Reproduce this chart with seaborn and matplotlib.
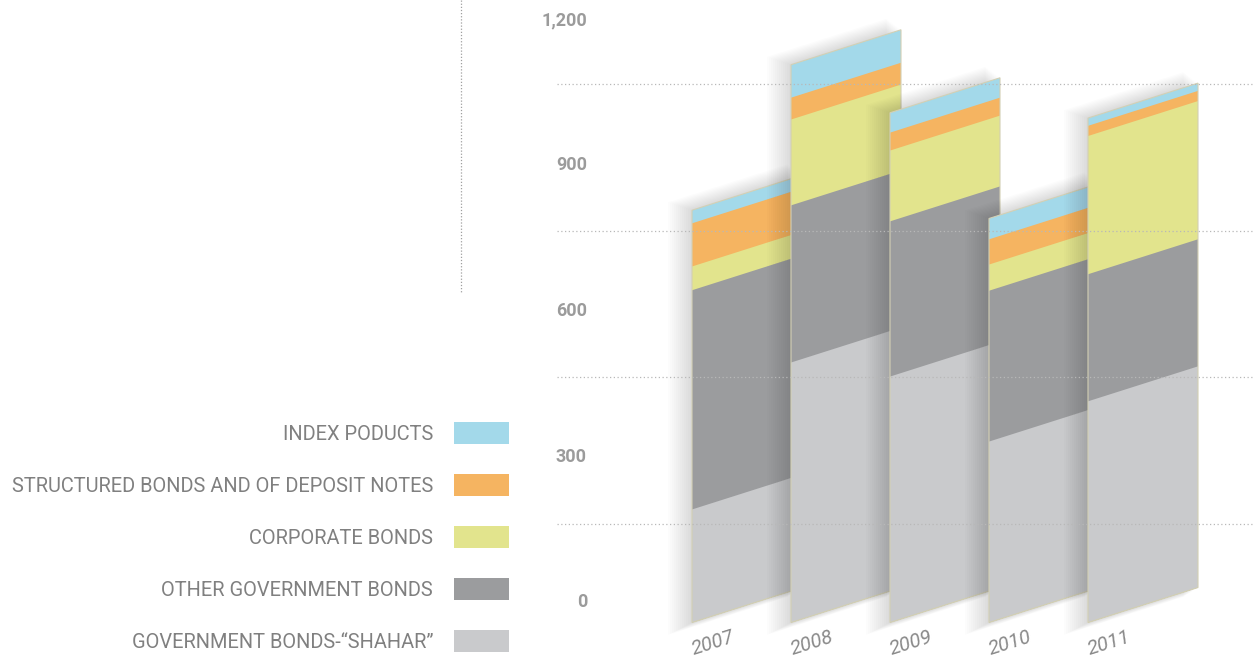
import numpy as np
import seaborn as sns
import matplotlib
matplotlib.use("Agg")
import matplotlib.pyplot as plt
from matplotlib import transforms as mtransforms
from matplotlib.patches import Rectangle, Patch
from matplotlib.lines import Line2D

# values (stacked, bottom to top)
years = ["2007", "2008", "2009", "2010", "2011"]
shahar = [233, 536, 507, 373, 456]
other_gov = [452, 324, 320, 311, 262]
corporate = [49, 177, 146, 54, 285]
structured = [89, 45, 37, 52, 21]
index_products = [27, 68, 41, 43, 16]

names = ["GOVERNMENT BONDS-\u201cSHAHAR\u201d", "OTHER GOVERNMENT BONDS", "CORPORATE BONDS",
         "STRUCTURED BONDS AND OF DEPOSIT NOTES", "INDEX PODUCTS"]
colors = ["#c9cacc", "#9b9c9e", "#e2e48d", "#f5b461", "#a3d9ea"]
yticks = [0, 300, 600, 900, 1200]
ytick_labels = ["0", "300", "600", "900", "1,200"]
grid_vals = [168, 470, 772, 1074]

sns.set_theme(style="white")
plt.rcParams["font.family"] = ["Roboto", "DejaVu Sans"]

W, H = 1253, 658
fig = plt.figure(figsize=(W / 100, H / 100), dpi=100)
ax_left, ax_w = 592, 661
ax = fig.add_axes([ax_left / W, 0, ax_w / W, 1])

PX_X = 99.0     # pixels per category step
PX_Y = 0.485    # pixels per value unit
bar_w = 110 / PX_X
k = 0.318 * PX_X / PX_Y   # slant of the bars in data units
x_shift = 2 / PX_X        # bars sit a little right of the grid steps


def shear(xc):
    return (mtransforms.Affine2D().translate(-xc, 0)
            .skew(0, np.arctan(k)).translate(xc, 0) + ax.transData)


layers = np.array([shahar, other_gov, corporate, structured, index_products], dtype=float)
cum = np.cumsum(layers, axis=0)

for li in range(4, -1, -1):
    n0 = len(ax.patches)
    sns.barplot(x=years, y=cum[li], color=colors[li], width=bar_w, saturation=1,
                errorbar=None, ax=ax, linewidth=0)
    for i, p in enumerate(ax.patches[n0:]):
        xc = p.get_x() + p.get_width() / 2
        p.set_transform(shear(xc))
        p.set_zorder(10 * i + (5 - li))

# soft shadows and thin outline
for i in range(len(years)):
    total = cum[4][i]
    xl = i - bar_w / 2
    xr = i + bar_w / 2
    for j in range(1, 13):
        dl, dt, db, dr = j * 2.0, j * 1.3, j * 0.4, j * 1.2
        x0 = xl - dl / PX_X
        x1 = xr - dr / PX_X
        r = Rectangle((x0, -db / PX_Y), x1 - x0, total + (dt + db) / PX_Y,
                      fc="black", ec="none", alpha=0.013, zorder=10 * i + 0.5)
        r.set_transform(shear(i))
        ax.add_patch(r)
    o = Rectangle((xl, 0), bar_w, total, fill=False, ec="#d3d0b4", lw=0.8,
                  zorder=10 * i + 6)
    o.set_transform(shear(i))
    ax.add_patch(o)
    ax.text(i - 0.535, -104, years[i], rotation=17.6, rotation_mode="anchor",
            ha="left", va="baseline", fontsize=14.5, fontstyle="italic",
            color="#8a8a8a")

for v in grid_vals:
    ax.axhline(v, xmin=(557 - ax_left) / ax_w, xmax=1, color="#b8b8b8",
               ls=(0, (1, 2)), lw=0.9, zorder=200, clip_on=False)

x_lo = -(745 - ax_left) / PX_X - x_shift
ax.set_xlim(x_lo, x_lo + ax_w / PX_X)
ax.set_ylim((605 - H) / PX_Y, 605 / PX_Y)
ax.set_xticks([])
ax.set_yticks(yticks)
ax.set_yticklabels(ytick_labels)
ax.tick_params(axis="y", length=0, pad=3.6, labelsize=13, labelcolor="#9b9b9b")
off = mtransforms.ScaledTranslation(0, 5 / 100, fig.dpi_scale_trans)
for lab in ax.get_yticklabels():
    lab.set_fontweight("bold")
    lab.set_transform(lab.get_transform() + off)
ax.set_xlabel("")
ax.set_ylabel("")
sns.despine(ax=ax, left=True, bottom=True)

handles = [Patch(fc=colors[li], ec="none") for li in range(4, -1, -1)]
labels = [names[li] for li in range(4, -1, -1)]
fig.legend(handles, labels, loc="center right", bbox_to_anchor=(509 / W, 1 - 537 / H),
           frameon=False, markerfirst=False, fontsize=14.4, labelcolor="#808080",
           handlelength=2.75, handleheight=1.35, handletextpad=1.05,
           labelspacing=1.48, borderpad=0, borderaxespad=0)

fig.add_artist(Line2D([461 / W, 461 / W], [1, 1 - 293 / H], color="#a0a0a0",
                      ls=(0, (1, 1.5)), lw=0.9))

fig.savefig("out.png", dpi=100)
